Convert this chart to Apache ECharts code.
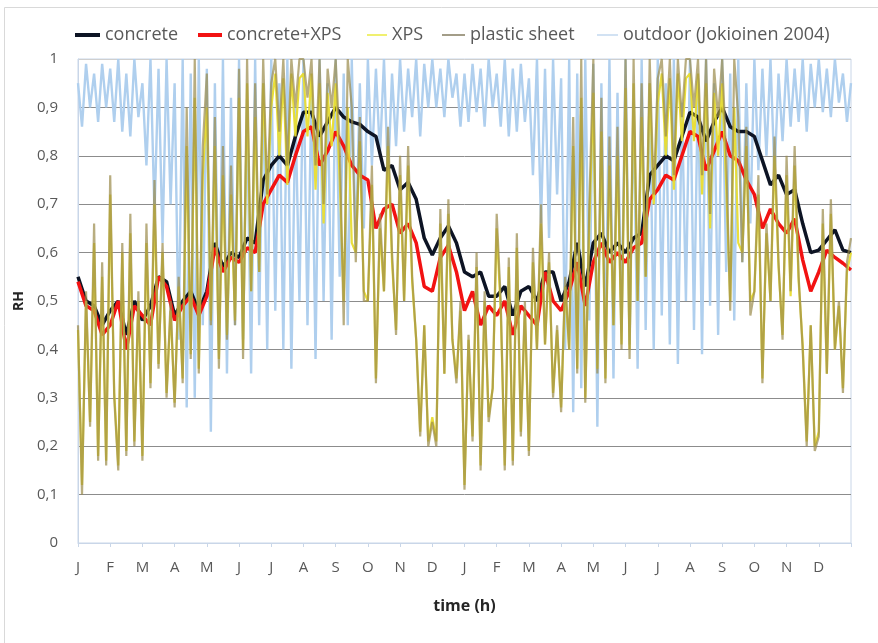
<!DOCTYPE html>
<html>
<head>
<meta charset="utf-8">
<script src="https://cdn.jsdelivr.net/npm/echarts@6/dist/echarts.min.js"></script>
<style>
html,body{margin:0;padding:0;background:#fff;}
#chart{width:878px;height:643px;}
</style>
</head>
<body>
<div id="chart"></div>
<script>
// ---- data ----
var monthLetters = ['J','F','M','A','M','J','J','A','S','O','N','D'];
var seriesNames = ['concrete','concrete+XPS','XPS','plastic sheet','outdoor (Jokioinen 2004)'];
var hoursTotal = 17520;           // two years, hourly
var monthHours = 730;

// smooth series: 4 values per month (step 182.5 h)
var concrete = [
 0.55,0.50,0.49,0.45, 0.48,0.50,0.43,0.50, 0.46,0.49,0.55,0.54, 0.47,0.50,0.52,0.48,
 0.52,0.62,0.57,0.60, 0.59,0.63,0.62,0.75, 0.78,0.80,0.78,0.84, 0.89,0.89,0.84,0.87,
 0.90,0.88,0.87,0.865, 0.85,0.84,0.77,0.78, 0.73,0.745,0.71,0.63, 0.595,0.63,0.655,0.62,
 0.56,0.55,0.56,0.51, 0.51,0.53,0.47,0.52, 0.53,0.50,0.56,0.56, 0.50,0.54,0.62,0.53,
 0.62,0.64,0.60,0.62, 0.60,0.63,0.64,0.76, 0.78,0.80,0.79,0.84, 0.89,0.88,0.83,0.87,
 0.90,0.86,0.85,0.85, 0.84,0.79,0.74,0.76, 0.72,0.73,0.66,0.60, 0.605,0.626,0.647,0.605,
 0.60
];
var concreteXPS = [
 0.54,0.49,0.48,0.43, 0.45,0.50,0.40,0.49, 0.47,0.45,0.55,0.53, 0.46,0.49,0.51,0.47,
 0.51,0.61,0.56,0.59, 0.58,0.61,0.60,0.70, 0.73,0.76,0.745,0.80, 0.85,0.86,0.78,0.81,
 0.85,0.82,0.78,0.76, 0.75,0.65,0.69,0.70, 0.64,0.66,0.62,0.53, 0.52,0.59,0.615,0.56,
 0.48,0.52,0.45,0.49, 0.47,0.50,0.43,0.49, 0.47,0.45,0.56,0.50, 0.48,0.52,0.58,0.49,
 0.58,0.62,0.58,0.60, 0.58,0.61,0.62,0.71, 0.73,0.76,0.75,0.80, 0.85,0.84,0.77,0.81,
 0.85,0.80,0.79,0.75, 0.72,0.65,0.69,0.66, 0.64,0.67,0.585,0.52, 0.56,0.605,0.59,0.578,
 0.564
];
// spiky series: 8 values per month (step 91.25 h)
var xps = [
 0.44,0.12,0.50,0.25,0.62,0.18,0.55,0.17, 0.72,0.31,0.16,0.60,0.19,0.64,0.21,0.50,
 0.18,0.62,0.33,0.70,0.37,0.60,0.31,0.48, 0.29,0.53,0.34,0.82,0.39,0.92,0.36,0.76,
 0.90,0.46,0.82,0.38,0.76,0.43,0.72,0.46, 0.92,0.40,0.95,0.52,0.88,0.56,0.95,0.70,
 0.90,0.97,0.80,0.96,0.74,0.97,0.84,0.96, 0.97,0.84,0.97,0.73,0.95,0.66,0.93,0.82,
 0.95,0.75,0.50,0.90,0.62,0.60,0.83,0.52, 0.50,0.74,0.34,0.65,0.52,0.82,0.58,0.44,
 0.76,0.50,0.78,0.54,0.42,0.23,0.45,0.21, 0.26,0.21,0.66,0.35,0.68,0.42,0.34,0.48,
 0.12,0.42,0.22,0.57,0.16,0.50,0.26,0.32, 0.65,0.48,0.16,0.57,0.17,0.61,0.23,0.48,
 0.19,0.58,0.40,0.66,0.41,0.58,0.31,0.44, 0.28,0.53,0.40,0.82,0.36,0.92,0.30,0.66,
 0.93,0.36,0.85,0.34,0.78,0.45,0.80,0.41, 0.94,0.40,0.95,0.50,0.88,0.55,0.95,0.70,
 0.91,0.97,0.80,0.96,0.73,0.97,0.83,0.96, 0.97,0.83,0.97,0.72,0.95,0.65,0.93,0.80,
 0.95,0.74,0.50,0.90,0.62,0.60,0.82,0.50, 0.52,0.72,0.34,0.64,0.50,0.80,0.57,0.43,
 0.76,0.51,0.78,0.54,0.41,0.21,0.45,0.20, 0.23,0.66,0.35,0.68,0.40,0.49,0.32,0.56,
 0.60
];
var plasticSheet = [
 0.45,0.10,0.52,0.24,0.66,0.17,0.58,0.16, 0.76,0.30,0.15,0.62,0.18,0.68,0.20,0.52,
 0.17,0.66,0.32,0.75,0.36,0.62,0.30,0.50, 0.28,0.55,0.33,0.90,0.38,1.00,0.35,0.82,
 0.97,0.45,0.88,0.36,0.82,0.42,0.78,0.45, 0.98,0.38,1.00,0.52,0.95,0.56,1.00,0.72,
 0.95,1.00,0.85,1.00,0.78,1.00,0.90,1.00, 1.00,0.92,1.00,0.78,1.00,0.70,0.98,0.90,
 1.00,0.82,0.45,1.00,0.90,0.58,0.88,0.50, 0.50,0.78,0.33,0.68,0.52,0.86,0.60,0.43,
 0.80,0.50,0.82,0.55,0.42,0.22,0.45,0.20, 0.25,0.20,0.69,0.35,0.71,0.42,0.33,0.50,
 0.11,0.43,0.21,0.60,0.15,0.52,0.25,0.32, 0.68,0.50,0.15,0.59,0.16,0.64,0.22,0.50,
 0.18,0.61,0.40,0.70,0.41,0.60,0.30,0.45, 0.27,0.55,0.40,0.88,0.35,1.00,0.29,0.70,
 1.00,0.35,0.92,0.33,0.84,0.45,0.86,0.40, 1.00,0.38,1.00,0.50,0.95,0.55,1.00,0.72,
 0.96,1.00,0.84,1.00,0.76,1.00,0.88,1.00, 1.00,0.90,1.00,0.76,1.00,0.68,0.98,0.88,
 1.00,0.80,0.48,1.00,0.88,0.58,0.86,0.47, 0.52,0.76,0.33,0.66,0.50,0.84,0.58,0.42,
 0.80,0.52,0.82,0.55,0.40,0.20,0.45,0.19, 0.22,0.69,0.35,0.71,0.40,0.50,0.31,0.58,
 0.63
];
var outdoor = [
 0.95,0.86,0.99,0.90,0.97,0.87,0.99,0.90, 0.98,0.87,1.00,0.85,0.97,0.84,1.00,0.88,
 0.95,0.78,1.00,0.68,0.98,0.62,1.00,0.70, 0.95,0.42,1.00,0.28,0.97,0.30,1.00,0.45,
 0.98,0.23,0.95,0.40,1.00,0.35,0.92,0.45, 1.00,0.42,0.90,0.35,1.00,0.45,0.95,0.40,
 1.00,0.48,0.95,0.40,1.00,0.36,0.90,0.50, 1.00,0.45,0.95,0.38,1.00,0.50,0.95,0.42,
 1.00,0.55,0.97,0.45,1.00,0.60,0.95,0.65, 1.00,0.78,0.98,0.80,1.00,0.75,0.97,0.82,
 1.00,0.85,0.98,0.88,1.00,0.84,0.99,0.90, 1.00,0.90,0.98,0.88,1.00,0.92,0.97,0.86,
 0.97,0.87,0.99,0.89,0.98,0.86,1.00,0.90, 0.97,0.86,1.00,0.84,0.98,0.85,0.99,0.87,
 0.96,0.76,1.00,0.66,0.98,0.63,1.00,0.72, 0.96,0.40,1.00,0.27,0.97,0.32,1.00,0.46,
 0.99,0.24,0.95,0.38,1.00,0.34,0.93,0.44, 1.00,0.41,0.91,0.36,1.00,0.44,0.95,0.40,
 1.00,0.47,0.95,0.41,1.00,0.37,0.91,0.50, 1.00,0.44,0.96,0.39,1.00,0.49,0.95,0.43,
 1.00,0.56,0.97,0.46,1.00,0.58,0.95,0.66, 1.00,0.77,0.98,0.80,1.00,0.76,0.97,0.83,
 1.00,0.86,0.98,0.87,1.00,0.85,0.99,0.90, 1.00,0.89,0.98,0.88,1.00,0.91,0.97,0.87,
 0.95
];

function toXY(values){
  var step = hoursTotal / (values.length - 1);
  return values.map(function(v,i){ return [i*step, v]; });
}

var chart = echarts.init(document.getElementById('chart'), null, {renderer:'canvas'});
var FONT = 'Open Sans';
var splitColors = ['#c9d6e8','#8c8c8c','#8c8c8c','#8c8c8c','#8c8c8c','#8c8c8c','#8c8c8c','#8c8c8c','#8c8c8c','#8c8c8c','#cfcfcf'];

var legendText = {fontFamily:FONT, fontSize:18, color:'#595959'};
var legendSpec = [
  {left:70,  w:25, h:4, color:'#0d1424'},
  {left:193, w:24, h:4, color:'#f21212'},
  {left:362, w:20, h:2, color:'#f0f070'},
  {left:437, w:23, h:2, color:'#a39d88'},
  {left:592, w:21, h:2, color:'#d2e2f3'}
];
var legends = legendSpec.map(function(s,i){
  return {left:s.left, top:21, icon:'rect', itemWidth:s.w, itemHeight:s.h,
    textStyle:legendText, selectedMode:false,
    data:[{name:seriesNames[i], itemStyle:{color:s.color}}]};
});

chart.setOption({
  animation:false,
  backgroundColor:'#ffffff',
  graphic:[{type:'rect', shape:{x:4.5,y:7.5,width:900,height:700}, style:{fill:'none', stroke:'#d9d9d9', lineWidth:1}, silent:true}],
  legend:legends,
  grid:{left:78, right:27, top:59, bottom:100, show:true, borderColor:'#c9d6e8', borderWidth:1},
  xAxis:{
    type:'value', min:0, max:hoursTotal, interval:monthHours,
    name:'time (h)', nameLocation:'middle', nameGap:55,
    nameTextStyle:{fontFamily:FONT, fontSize:16, fontWeight:'bold', color:'#262626'},
    axisLine:{show:true, lineStyle:{color:'#c9d6e8'}},
    axisTick:{show:true, length:4, lineStyle:{color:'#c9d6e8'}},
    splitLine:{show:false},
    axisLabel:{fontFamily:FONT, fontSize:15, color:'#595959', margin:17,
      formatter:function(v){ if(v>=hoursTotal) return ''; return monthLetters[Math.round(v/monthHours)%12]; }}
  },
  yAxis:{
    type:'value', min:0, max:1, interval:0.1,
    name:'RH', nameLocation:'middle', nameGap:45, nameRotate:90,
    nameTextStyle:{fontFamily:FONT, fontSize:14, fontWeight:'bold', color:'#262626'},
    axisLine:{show:true, lineStyle:{color:'#c9d6e8'}},
    axisTick:{show:false},
    splitLine:{show:true, lineStyle:{color:splitColors, width:1}},
    axisLabel:{fontFamily:FONT, fontSize:15, color:'#595959', margin:20,
      formatter:function(v){ return (Math.round(v*10)/10).toString().replace('.',','); }}
  },
  series:[
    {name:seriesNames[0], type:'line', symbol:'none', z:3, data:toXY(concrete),
     lineStyle:{color:'#0d1424', width:3.5}, itemStyle:{color:'#0d1424'}},
    {name:seriesNames[1], type:'line', symbol:'none', z:4, data:toXY(concreteXPS),
     lineStyle:{color:'#f21212', width:3.5}, itemStyle:{color:'#f21212'}},
    {name:seriesNames[2], type:'line', symbol:'none', z:5, data:toXY(xps),
     lineStyle:{color:'#e8dc30', width:2.2, opacity:0.95}, itemStyle:{color:'#f0f070'}},
    {name:seriesNames[3], type:'line', symbol:'none', z:6, data:toXY(plasticSheet),
     lineStyle:{color:'#9a8a4a', width:2.2, opacity:0.7}, itemStyle:{color:'#a39d88'}},
    {name:seriesNames[4], type:'line', symbol:'none', z:2, data:toXY(outdoor),
     lineStyle:{color:'#afcfee', width:2.4}, itemStyle:{color:'#d2e2f3'}}
  ]
});
</script>
</body>
</html>
